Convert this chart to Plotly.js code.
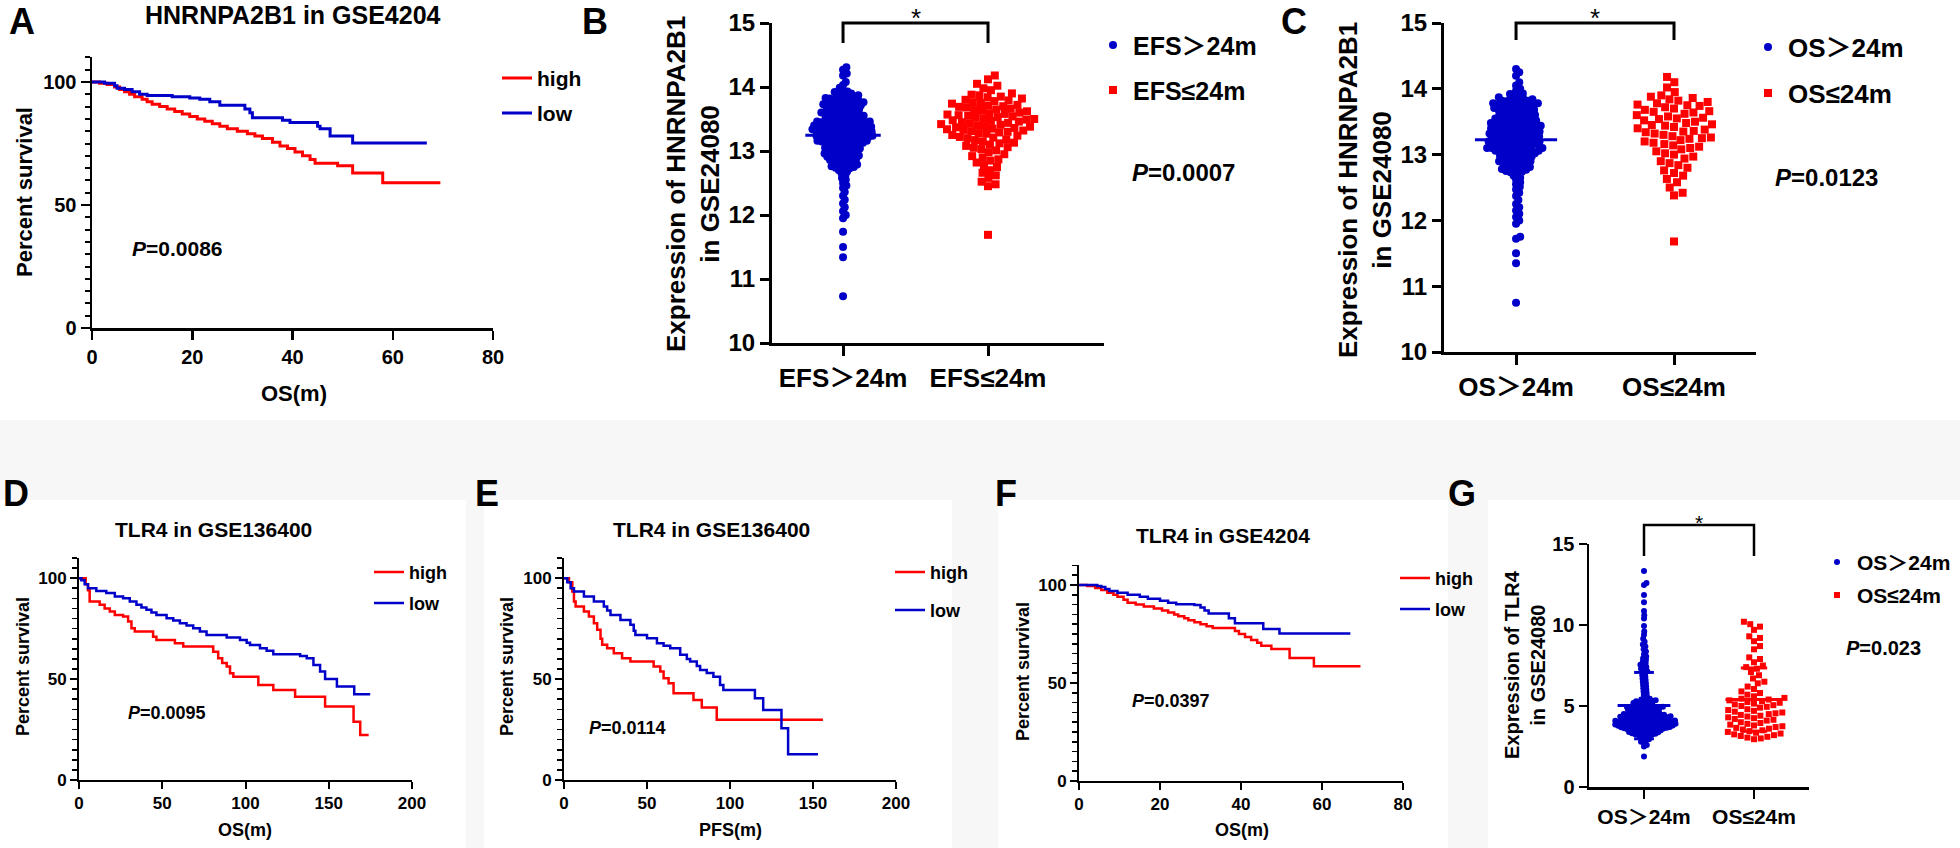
<!DOCTYPE html>
<html><head><meta charset="utf-8">
<script src="https://cdn.plot.ly/plotly-3.0.1.min.js"></script>
<style>html,body{margin:0;padding:0;background:#fff}#chart{width:1960px;height:848px}</style>
</head><body><div id="chart"></div>
<script>
// ---------------- DATA ----------------
// A: HNRNPA2B1 in GSE4204 (OS, months / percent survival)
const A_high_t = [0,1.5,3,4.5,5.5,6.5,7.5,8.5,10,11,12,13.5,15,16.5,18,19.5,21,22.5,24,25.5,27,29,31,32.5,34,36,37.5,39,40.5,42,43.5,44.5,49,52,58,69.5];
const A_high_s = [100,99.5,99,98,97,96,95,94,93,92,91,90,89,88,87,86,85,84,83,82,81,80,79,78,77,75.5,74,73,71.5,70,68.5,67,66,63,59,59];
const A_low_t = [0,2.5,4.5,5,6.5,8,9.5,11,16,19.5,21.5,23.5,25.5,30.5,31.5,32,38,39.5,45,45.5,47.5,52,66.8];
const A_low_s = [100,99.5,98.5,97.5,97,96,95,94.5,94,93.5,93,92,90.5,89,87.5,85.5,84.5,83.5,82,81,78,75.2,75.2];
// D: TLR4 in GSE136400 (OS)
const D_high_t = [0,4,5.4,6.4,12.4,15.4,18.5,21.5,26.5,29.5,31.5,33.5,44.5,46.5,57.6,62.6,80.6,83.6,86,88.7,90.7,92.7,107.7,116.7,129.8,147.8,164.9,168.9,174];
const D_high_s = [100,97,94,88.4,86.8,85,83.5,81.8,81,78.5,75.2,73.6,71,69.4,67.8,66.1,63.6,60.3,58,56.2,52.9,51.2,47.1,44.6,41.3,36.4,28.9,22.3,22.3];
const D_low_t = [0,1.4,3.4,5.4,10.4,16.4,21.5,26.5,30.5,34.5,37.5,40.5,43.5,46.5,52.6,56.6,60.6,64.6,68.6,72.6,76.6,88.7,96.7,100.7,102.7,108.7,112.7,116.7,132.8,136.8,140.8,144.8,147.8,154.9,165.3,174.9];
const D_low_s = [100,99,97,95,93.7,92.6,90.9,90,88.4,86.8,85.5,84.3,83,81.8,80.2,79,77.7,76.5,75.2,73.6,71.9,70.6,69.4,68,66.9,65.3,64,62.3,61.5,60.3,57,53.7,50.1,46.3,42.5,42.5];
// E: TLR4 in GSE136400 (PFS)
const E_high_t = [0,3,5,6,7,12,15,18,20,22,23,26,30,35,40,54,58,60,63,66,78,83,92,156];
const E_high_s = [100,98,93.4,88.4,86,83.5,81,77.7,74.4,70,67,65.3,62.8,60.3,58.7,56.2,53.7,50.4,47.9,43,39.7,35.9,29.8,29.8];
const E_low_t = [0,2,4,6,12,18,24,26,28,34,40,42,43,50,56,60,64,70,74,76,80,82,86,90,94,96,115,120,131,135,153];
const E_low_s = [100,98,95,93.4,90.9,88.4,86,84,81.8,79.3,76.9,74,71.9,70.2,67.8,66.5,65.3,62,60,58.7,56.5,54.5,53,51.2,47.1,44.6,40.5,34.7,25.6,12.7,12.7];
// F: TLR4 in GSE4204 (OS)
const F_high_t = [0,2,4,5.5,7,8.5,9.5,11,12,14,16,18.5,20.5,22,23.5,24.5,26,27,28.5,30,31.5,33,38.5,39.5,41,42.5,44,45,47.5,52,58,69.5];
const F_high_s = [100,99.5,98.5,97.5,96,95,94,92.5,91,90,89,88,87,86,85,84,83,82,81,80,79,78,76.5,75,73.5,72,70.5,69,67.3,62.8,58.5,58.5];
const F_low_t = [0,4.5,5.5,6.5,7.5,9.5,12,15,17,20,22,24,28.5,30,31,32,37,38.5,45.5,49.5,67];
const F_low_s = [100,99.5,99,98,97,96,95,94,93,92,91,90.2,89.8,88.5,87,85.5,83,80.5,77.6,75.3,75.3];

// B: HNRNPA2B1 expression by EFS group
const catsB = ['EFS＞24m', 'EFS≤24m'];
const B_long = [14.31,14.27,14.21,14.18,14.08,14.03,13.99,13.95,13.92,13.9,13.88,13.86,13.85,13.83,13.82,13.8,13.79,13.78,13.76,13.75,13.74,13.73,13.72,13.71,13.7,13.69,13.68,13.67,13.66,13.65,13.64,13.63,13.62,13.61,13.6,13.6,13.59,13.58,13.57,13.56,13.55,13.55,13.54,13.53,13.52,13.51,13.5,13.5,13.49,13.48,13.47,13.46,13.46,13.45,13.44,13.43,13.42,13.42,13.41,13.4,13.4,13.39,13.38,13.38,13.37,13.36,13.36,13.35,13.34,13.34,13.33,13.32,13.32,13.31,13.3,13.3,13.29,13.28,13.28,13.27,13.26,13.26,13.25,13.24,13.24,13.23,13.22,13.22,13.21,13.2,13.2,13.19,13.18,13.17,13.16,13.16,13.15,13.14,13.13,13.12,13.12,13.11,13.1,13.09,13.08,13.07,13.06,13.05,13.04,13.03,13.02,13.01,13.0,12.99,12.97,12.96,12.94,12.93,12.91,12.9,12.88,12.86,12.85,12.83,12.81,12.79,12.77,12.75,12.73,12.7,12.68,12.65,12.62,12.58,12.55,12.5,12.46,12.42,12.36,12.3,12.24,12.18,12.12,12.06,12.0,11.95,11.74,11.5,11.34,10.73,13.65,13.58,13.52,13.47,13.43,13.39,13.35,13.31,13.27,13.23,13.19,13.15,13.11,13.07,13.03,13.55,13.45,13.35,13.25,13.15,13.4,13.3,13.2,13.33,13.29,13.37,13.21,13.48,13.13,13.62,12.98,13.05,13.71,12.92,13.44,13.72,13.74,13.77,13.79,13.81,13.84,13.87,13.9,13.93,13.76,13.83,13.68,12.72,12.76,12.8,12.84,12.87,12.9,12.95,12.99,12.78,12.82,12.88,12.93,12.74];
const B_short = [14.18,14.12,14.05,14.02,13.98,13.95,13.9,13.88,13.87,13.85,13.84,13.82,13.8,13.79,13.78,13.76,13.75,13.74,13.72,13.71,13.7,13.69,13.68,13.66,13.65,13.64,13.63,13.62,13.6,13.59,13.58,13.57,13.56,13.55,13.54,13.53,13.52,13.51,13.5,13.49,13.48,13.47,13.46,13.45,13.44,13.43,13.42,13.41,13.4,13.39,13.38,13.37,13.36,13.35,13.34,13.33,13.32,13.31,13.3,13.29,13.28,13.27,13.25,13.24,13.22,13.21,13.2,13.18,13.17,13.15,13.13,13.12,13.1,13.08,13.06,13.05,13.03,13.01,12.98,12.95,12.92,12.9,12.87,12.85,12.82,12.78,12.75,12.7,12.66,12.62,12.58,12.52,12.48,12.45,11.69];

// C: HNRNPA2B1 expression by OS group
const catsC = ['OS＞24m', 'OS≤24m'];
const C_long = [14.3,14.25,14.2,14.1,14.05,14.0,13.97,13.93,13.9,13.87,13.85,13.84,13.82,13.81,13.79,13.78,13.77,13.75,13.74,13.73,13.72,13.7,13.69,13.68,13.67,13.66,13.65,13.64,13.63,13.62,13.61,13.6,13.59,13.58,13.57,13.56,13.55,13.54,13.53,13.52,13.51,13.5,13.49,13.48,13.47,13.46,13.45,13.44,13.43,13.42,13.41,13.4,13.39,13.38,13.37,13.36,13.35,13.34,13.33,13.32,13.31,13.3,13.29,13.28,13.27,13.26,13.25,13.24,13.23,13.22,13.21,13.2,13.19,13.18,13.17,13.16,13.15,13.14,13.13,13.12,13.11,13.1,13.09,13.08,13.07,13.06,13.05,13.04,13.03,13.02,13.01,13.0,12.98,12.96,12.95,12.93,12.91,12.89,12.87,12.85,12.83,12.81,12.78,12.76,12.74,12.71,12.68,12.65,12.62,12.58,12.55,12.51,12.47,12.42,12.37,12.31,12.25,12.2,12.15,12.1,12.05,12.0,11.95,11.75,11.72,11.5,11.35,10.75,13.66,13.58,13.52,13.46,13.42,13.38,13.34,13.3,13.26,13.22,13.18,13.14,13.1,13.06,13.02,13.55,13.45,13.35,13.25,13.15,13.05,13.6,13.5,13.4,13.3,13.2,13.1,13.44,13.36,13.28,13.32,13.24,13.48,13.16,13.7,12.97,13.08,13.76,12.9,13.41,13.71,13.73,13.76,13.78,13.8,13.83,13.86,13.89,13.92,13.75,13.82,13.68,12.73,12.77,12.81,12.84,12.88,12.92,12.94,12.99,12.79,12.86,12.9,12.96,12.75];
const C_short = [14.18,14.1,14.02,13.95,13.9,13.88,13.86,13.84,13.82,13.8,13.78,13.76,13.74,13.72,13.7,13.68,13.66,13.64,13.62,13.6,13.58,13.56,13.54,13.52,13.5,13.48,13.46,13.44,13.42,13.4,13.38,13.36,13.34,13.32,13.3,13.28,13.26,13.24,13.22,13.2,13.18,13.16,13.14,13.12,13.1,13.08,13.05,13.02,13.0,12.97,12.94,12.9,12.87,12.84,12.8,12.76,12.72,12.68,12.63,12.58,12.5,12.42,12.38,11.68,13.45,13.55,13.35,13.65,13.25,13.75];

// G: TLR4 expression by OS group
const catsG = ['OS＞24m', 'OS≤24m'];
const G_long = [13.33,12.6,12.47,11.85,11.4,10.86,10.6,10.4,9.94,9.6,9.4,9.15,8.97,8.8,8.67,8.5,8.36,8.2,8.05,7.95,7.85,7.75,7.65,7.55,7.5,7.4,7.3,7.25,7.15,7.1,7.0,6.9,6.8,6.7,6.6,6.5,6.4,6.3,6.2,6.1,6.0,5.9,5.8,5.7,5.6,5.5,5.45,5.4,5.38,5.35,5.3,5.28,5.25,5.2,5.18,5.15,5.1,5.08,5.05,5.0,4.98,4.95,4.92,4.9,4.88,4.85,4.82,4.8,4.78,4.75,4.72,4.7,4.68,4.65,4.62,4.6,4.58,4.55,4.52,4.5,4.48,4.45,4.42,4.4,4.38,4.35,4.32,4.3,4.28,4.25,4.22,4.2,4.18,4.15,4.12,4.1,4.08,4.05,4.02,4.0,3.98,3.95,3.92,3.9,3.88,3.85,3.82,3.8,3.78,3.75,3.72,3.7,3.68,3.65,3.62,3.6,3.57,3.54,3.5,3.47,3.44,3.4,3.36,3.32,3.28,3.24,3.2,3.15,3.1,3.05,3.0,2.95,2.88,2.8,2.72,2.6,2.5,1.89,4.83,4.63,4.43,4.23,4.03,3.83,3.63,4.73,4.53,4.33,4.13,3.93,3.73,5.13,5.33,4.87,4.47,4.07,3.87,4.27,3.21,3.26,3.31,3.34,3.38,3.42,3.46,3.49,3.52,3.56,3.59,3.61,3.64,3.67,3.69,3.71,3.74,3.77,3.79,3.81,3.84,3.86,3.89,3.91,3.94,3.97,3.99,4.01,4.04,4.06,4.09,4.11,4.14,4.17,4.21,4.26,4.31,4.36,4.41,4.46];
const G_short = [10.2,10.05,9.9,9.7,9.3,9.2,9.0,8.7,8.5,8.0,7.9,7.7,7.5,7.4,7.3,7.1,6.9,6.7,6.5,6.4,6.2,6.05,5.9,5.8,5.7,5.6,5.5,5.45,5.4,5.35,5.3,5.25,5.2,5.1,5.05,5.0,4.95,4.9,4.8,4.75,4.7,4.6,4.55,4.5,4.45,4.4,4.3,4.25,4.2,4.15,4.1,4.0,3.95,3.9,3.85,3.8,3.7,3.65,3.6,3.55,3.5,3.45,3.4,3.35,3.3,3.25,3.2,3.15,3.1,3.05,3.0,2.95,5.15,4.65,4.35,3.75];

const kmNames = ['high', 'low'];
const pValues = {A:'0.0086', B:'0.0007', C:'0.0123', D:'0.0095', E:'0.0114', F:'0.0397', G:'0.023'};

// ---------------- STYLE / LAYOUT ----------------
const FONT = 'Liberation Sans, Arial, Noto Sans CJK SC, sans-serif';
const RED = '#ff0000', BLUE = '#0000c8';
const W = 1960, H = 848;
const px = v => v / W, py = v => 1 - v / H;

function ax(o) {
  const base = {showline:true, linecolor:'#000', linewidth:2.5, ticks:'outside', tickcolor:'#000',
    tickwidth:2.5, ticklen:9, showgrid:false, zeroline:false, fixedrange:true,
    tickfont:{family:FONT, size:20, color:'#000', weight:'bold'}};
  return Object.assign(base, o);
}
function tf(size) { return {family:FONT, size:size, color:'#000', weight:'bold'}; }
function kmY(dom, fs, lw) {
  return ax({domain:dom, range:[0,110], tickmode:'linear', tick0:0, dtick:50, linewidth:lw, tickwidth:lw,
    tickfont:tf(fs), minor:{ticks:'outside', tickmode:'linear', tick0:0, dtick:5, ticklen:5, tickwidth:lw*0.8, tickcolor:'#000', showgrid:false}});
}

const layout = {
  width:W, height:H, margin:{l:0,r:0,t:0,b:0}, paper_bgcolor:'#ffffff', plot_bgcolor:'rgba(0,0,0,0)',
  showlegend:true, font:{family:FONT, color:'#000'},
  xaxis: ax({domain:[px(92),px(493)], range:[0,80], tickmode:'linear', tick0:0, dtick:20, anchor:'y', tickfont:tf(20), ticklen:9}),
  yaxis: Object.assign(kmY([py(328),py(57.4)], 20, 2.5), {anchor:'x'}),
  xaxis2: ax({domain:[px(772),px(1104)], range:[-0.49,1.8], tickvals:[0,1], ticktext:catsB, anchor:'y2', linewidth:3, tickwidth:3, ticklen:10, tickfont:tf(26)}),
  yaxis2: ax({domain:[py(343),py(23)], range:[10,15], tickmode:'linear', tick0:10, dtick:1, anchor:'x2', linewidth:3, tickwidth:3, ticklen:9, tickfont:tf(24)}),
  xaxis3: ax({domain:[px(1444),px(1756)], range:[-0.456,1.519], tickvals:[0,1], ticktext:catsC, anchor:'y3', linewidth:3, tickwidth:3, ticklen:10, tickfont:tf(26)}),
  yaxis3: ax({domain:[py(352),py(23)], range:[10,15], tickmode:'linear', tick0:10, dtick:1, anchor:'x3', linewidth:3, tickwidth:3, ticklen:9, tickfont:tf(24)}),
  xaxis4: ax({domain:[px(79),px(412)], range:[0,200], tickmode:'linear', tick0:0, dtick:50, anchor:'y4', linewidth:2, tickwidth:2, ticklen:7, tickfont:tf(17)}),
  yaxis4: Object.assign(kmY([py(780),py(558)], 17, 2), {anchor:'x4', ticklen:7}),
  xaxis5: ax({domain:[px(564),px(896)], range:[0,200], tickmode:'linear', tick0:0, dtick:50, anchor:'y5', linewidth:2, tickwidth:2, ticklen:7, tickfont:tf(17)}),
  yaxis5: Object.assign(kmY([py(780),py(558)], 17, 2), {anchor:'x5', ticklen:7}),
  xaxis6: ax({domain:[px(1079),px(1403)], range:[0,80], tickmode:'linear', tick0:0, dtick:20, anchor:'y6', linewidth:2, tickwidth:2, ticklen:7, tickfont:tf(17)}),
  yaxis6: Object.assign(kmY([py(781),py(565.4)], 17, 2), {anchor:'x6', ticklen:7}),
  xaxis7: ax({domain:[px(1589),px(1809)], range:[-0.5,1.5], tickvals:[0,1], ticktext:catsG, anchor:'y7', linewidth:2.5, tickwidth:2.5, ticklen:9, tickfont:tf(21)}),
  yaxis7: ax({domain:[py(787),py(544)], range:[0,15], tickmode:'linear', tick0:0, dtick:5, anchor:'x7', linewidth:2.5, tickwidth:2.5, ticklen:8, tickfont:tf(20)}),
  annotations:[], shapes:[]
};

// legends (textLeft = where the label text should begin)
function mkLegend(textLeft, firstY, fs, spacing) {
  const h = 1.3*fs + 3;
  return {x:px(textLeft-40), xanchor:'left', y:py(firstY - 5 - h/2), yanchor:'top', bgcolor:'rgba(0,0,0,0)',
    borderwidth:0, font:tf(fs), tracegroupgap:Math.max(0, spacing - h), itemwidth:30, traceorder:'grouped'};
}
layout.legend  = mkLegend(503+34, 78, 21, 35);
layout.legend2 = mkLegend(1133, 45, 25, 45);
layout.legend3 = mkLegend(1788, 47, 26, 46);
layout.legend4 = mkLegend(409, 572, 18, 31);
layout.legend5 = mkLegend(895+35, 572, 18, 38);
layout.legend6 = mkLegend(1400+35, 578, 18, 31);
layout.legend7 = mkLegend(1847+10, 562, 21, 33);

// ---------------- TRACES ----------------
const traces = [];
function km(t, s, name, color, xa, ya, leg, grp, w) {
  traces.push({type:'scatter', mode:'lines', x:t, y:s, name:name, line:{shape:'hv', color:color, width:w},
    xaxis:xa, yaxis:ya, legend:leg, legendgroup:grp, cliponaxis:false, hoverinfo:'skip'});
}
km(A_high_t, A_high_s, kmNames[0], RED, 'x', 'y', 'legend', 'a1', 3);
km(A_low_t, A_low_s, kmNames[1], BLUE, 'x', 'y', 'legend', 'a2', 3);
km(D_high_t, D_high_s, kmNames[0], RED, 'x4', 'y4', 'legend4', 'd1', 2.5);
km(D_low_t, D_low_s, kmNames[1], BLUE, 'x4', 'y4', 'legend4', 'd2', 2.5);
km(E_high_t, E_high_s, kmNames[0], RED, 'x5', 'y5', 'legend5', 'e1', 2.5);
km(E_low_t, E_low_s, kmNames[1], BLUE, 'x5', 'y5', 'legend5', 'e2', 2.5);
km(F_high_t, F_high_s, kmNames[0], RED, 'x6', 'y6', 'legend6', 'f1', 2.5);
km(F_low_t, F_low_s, kmNames[1], BLUE, 'x6', 'y6', 'legend6', 'f2', 2.5);

// beeswarm x positions computed from the values and the axis scales
function swarm(values, cat, xa, ya, diam) {
  const pxX = (xa.domain[1]-xa.domain[0])*W/(xa.range[1]-xa.range[0]);
  const pxY = (ya.domain[1]-ya.domain[0])*H/(ya.range[1]-ya.range[0]);
  const idx = values.map((v,i)=>i).sort((a,b)=>values[a]-values[b]);
  const placed = [], xs = new Array(values.length);
  for (const i of idx) {
    const y = values[i]*pxY;
    const near = placed.filter(p => Math.abs(p.y - y) < diam);
    const cands = [0];
    for (const p of near) { const dx = Math.sqrt(diam*diam - (p.y-y)*(p.y-y)); cands.push(p.x+dx, p.x-dx); }
    cands.sort((a,b)=>Math.abs(a)-Math.abs(b));
    let chosen = 0;
    for (const c of cands) {
      if (near.every(p => (p.x-c)*(p.x-c) + (p.y-y)*(p.y-y) >= diam*diam - 0.01)) { chosen = c; break; }
    }
    placed.push({x:chosen, y:y});
    xs[i] = cat + chosen/pxX;
  }
  return xs;
}
function dots(values, cat, xa, ya, name, color, symbol, size, diam, leg, grp) {
  const xo = layout['xaxis'+xa.slice(1)], yo = layout['yaxis'+ya.slice(1)];
  traces.push({type:'scatter', mode:'markers', x:swarm(values, cat, xo, yo, diam), y:values, name:name,
    marker:{symbol:symbol, size:size, color:color, line:{width:0}}, xaxis:xa, yaxis:ya, legend:leg, legendgroup:grp,
    cliponaxis:false, hoverinfo:'skip'});
}
dots(B_long, 0, 'x2', 'y2', catsB[0], BLUE, 'circle', 8, 4.2, 'legend2', 'b1');
dots(B_short, 1, 'x2', 'y2', catsB[1], RED, 'square', 8, 7.8, 'legend2', 'b2');
dots(C_long, 0, 'x3', 'y3', catsC[0], BLUE, 'circle', 8, 4.6, 'legend3', 'c1');
dots(C_short, 1, 'x3', 'y3', catsC[1], RED, 'square', 8, 9, 'legend3', 'c2');
dots(G_long, 0, 'x7', 'y7', catsG[0], BLUE, 'circle', 6, 3.25, 'legend7', 'g1');
dots(G_short, 1, 'x7', 'y7', catsG[1], RED, 'square', 6, 6.8, 'legend7', 'g2');

// mean / SD lines
function meanSd(v) { const m = v.reduce((a,b)=>a+b,0)/v.length; const sd = Math.sqrt(v.reduce((a,b)=>a+(b-m)*(b-m),0)/(v.length-1)); return [m, sd]; }
function meanLines(values, cat, xa, ya, color, hw, sw) {
  const [m, sd] = meanSd(values);
  layout.shapes.push({type:'line', xref:xa, yref:ya, x0:cat-hw, x1:cat+hw, y0:m, y1:m, line:{color:color, width:3}});
  if (sw > 0) {
    layout.shapes.push({type:'line', xref:xa, yref:ya, x0:cat-sw, x1:cat+sw, y0:m+sd, y1:m+sd, line:{color:color, width:3}});
    layout.shapes.push({type:'line', xref:xa, yref:ya, x0:cat-sw, x1:cat+sw, y0:m-sd, y1:m-sd, line:{color:color, width:3}});
  }
}
meanLines(G_long, 0, 'x7', 'y7', BLUE, 0.24, 0.09);
meanLines(G_short, 1, 'x7', 'y7', RED, 0.26, 0.12);
meanLines(B_long, 0, 'x2', 'y2', BLUE, 0.26, 0);
meanLines(C_long, 0, 'x3', 'y3', BLUE, 0.26, 0);

// significance brackets
function bracket(xa, top, bottom, w) {
  layout.shapes.push({type:'path', xref:xa, yref:'paper', path:`M0,${py(bottom)} L0,${py(top)} L1,${py(top)} L1,${py(bottom)}`,
    line:{color:'#000', width:w}});
}
bracket('x2', 23, 43, 3);
bracket('x3', 23, 40, 3);
bracket('x7', 525, 556, 2.5);

// faint background tints
[[0,420,1960,500],[466,500,484,848],[952,500,998,848],[1448,500,1488,848]].forEach(r => {
  layout.shapes.push({type:'rect', xref:'paper', yref:'paper', x0:px(r[0]), x1:px(r[2]), y0:py(r[3]), y1:py(r[1]),
    fillcolor:'#f7f7f7', line:{width:0}, layer:'below'});
});

// ---------------- TEXT ----------------
function ann(text, x, y, size, o) {
  layout.annotations.push(Object.assign({text:text, x:px(x), y:py(y), xref:'paper', yref:'paper', showarrow:false,
    xanchor:'center', yanchor:'middle', font:tf(size)}, o || {}));
}
// panel letters
ann('A', 22, 21, 36); ann('B', 595, 22, 36); ann('C', 1294, 22, 36);
ann('D', 16, 493, 36); ann('E', 487, 493, 36); ann('F', 1006, 493, 36); ann('G', 1462, 493, 36);
// titles
ann('HNRNPA2B1 in GSE4204', 293, 15, 25);
ann('TLR4 in GSE136400', 213, 529, 21);
ann('TLR4 in GSE136400', 711, 529, 21);
ann('TLR4 in GSE4204', 1223, 535, 21);
// y titles
ann('Percent survival', 25, 192, 22, {textangle:-90});
ann('Percent survival', 23, 667, 18, {textangle:-90});
ann('Percent survival', 507, 667, 18, {textangle:-90});
ann('Percent survival', 1023, 672, 18, {textangle:-90});
ann('Expression of HNRNPA2B1<br>in GSE24080', 693, 184, 26, {textangle:-90});
ann('Expression of HNRNPA2B1<br>in GSE24080', 1365, 190, 26, {textangle:-90});
ann('Expression of TLR4<br>in GSE24080', 1525, 665, 20, {textangle:-90});
// x titles
ann('OS(m)', 294, 394, 22);
ann('OS(m)', 245, 830, 18);
ann('PFS(m)', 730, 830, 18);
ann('OS(m)', 1242, 830, 18);
// P values
const pv = (k) => '<i>P</i>=' + pValues[k];
ann(pv('A'), 130, 248, 21, {xanchor:'left'});
ann(pv('B'), 1130, 173, 24, {xanchor:'left'});
ann(pv('C'), 1773, 177, 24, {xanchor:'left'});
ann(pv('D'), 126, 713, 18, {xanchor:'left'});
ann(pv('E'), 587, 728, 18, {xanchor:'left'});
ann(pv('F'), 1130, 701, 18, {xanchor:'left'});
ann(pv('G'), 1844, 648, 20, {xanchor:'left'});
// significance stars
layout.annotations.push({text:'*', xref:'x2', yref:'paper', x:0.5, y:py(1), yanchor:'top', showarrow:false, font:{family:FONT, size:26, color:'#000'}});
layout.annotations.push({text:'*', xref:'x3', yref:'paper', x:0.5, y:py(1), yanchor:'top', showarrow:false, font:{family:FONT, size:26, color:'#000'}});
layout.annotations.push({text:'*', xref:'x7', yref:'paper', x:0.5, y:py(509), yanchor:'top', showarrow:false, font:{family:FONT, size:21, color:'#000'}});

Plotly.newPlot('chart', traces, layout, {displayModeBar:false, staticPlot:true});
</script></body></html>
